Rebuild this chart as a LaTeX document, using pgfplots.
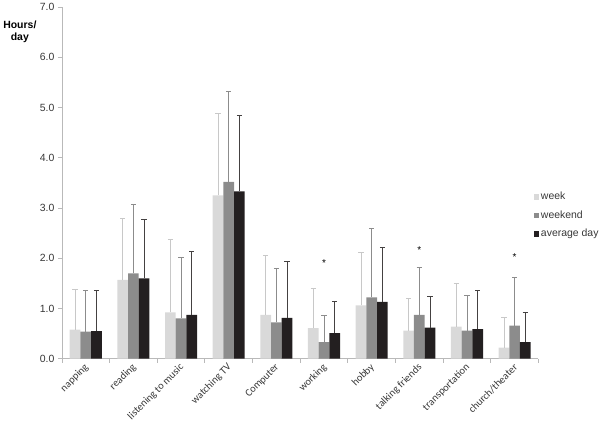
\documentclass[border=0pt]{standalone}
\usepackage{pgfplots}
\pgfplotsset{compat=1.18}
\usepackage{pgfplotstable}
\usepackage{fontspec}
\setmainfont{Liberation Sans}
\newfontfamily\catfont{Carlito}
\definecolor{wk}{RGB}{217,217,217}
\definecolor{we}{RGB}{140,140,140}
\definecolor{av}{RGB}{35,31,32}
\definecolor{axgray}{RGB}{185,185,185}
\definecolor{txt}{RGB}{55,55,55}

% value and upward SD for week (w), weekend (e), average day (a)
\pgfplotstableread{
x w  wsd  e    esd  a    asd
0 0.58 0.79 0.54 0.81 0.55 0.80
1 1.57 1.22 1.70 1.38 1.60 1.18
2 0.92 1.45 0.80 1.22 0.87 1.26
3 3.25 1.63 3.52 1.80 3.33 1.51
4 0.87 1.18 0.72 1.07 0.81 1.12
5 0.61 0.78 0.33 0.53 0.51 0.63
6 1.06 1.05 1.22 1.37 1.13 1.09
7 0.56 0.63 0.87 0.95 0.62 0.62
8 0.64 0.86 0.56 0.69 0.59 0.76
9 0.22 0.61 0.66 0.96 0.33 0.59
}\hours

\pgfplotsset{
  sdbar/.style={forget plot, sharp plot, draw=none, mark=none,
      error bars/y dir=plus, error bars/y explicit,
      error bars/error bar style={draw=#1, line width=0.8bp},
      error bars/error mark options={rotate=90, draw=#1, mark size=2.6bp,
                                     line width=0.8bp}},
}

\begin{document}
\begin{tikzpicture}
\begin{axis}[
    scale only axis,
    width=477bp, height=352bp,
    xmin=-0.5, xmax=9.5,
    ymin=0, ymax=7,
    axis lines*=left,
    axis line style={draw=axgray, line width=0.8bp},
    xtick={0,...,9},
    xticklabels={napping, reading, listening to music, watching TV, Computer,
                 working, hobby, talking friends, transportation, church/theater},
    major x tick style={draw=none},
    minor xtick={-0.5,0.5,...,9.5},
    minor x tick style={draw=axgray, line width=0.8bp},
    minor tick length=4bp,
    ytick={0,1,...,7},
    major tick length=4bp,
    y tick style={draw=axgray, line width=0.8bp},
    tick align=outside,
    yticklabel style={/pgf/number format/fixed, /pgf/number format/fixed zerofill,
                      /pgf/number format/precision=1,
                      /pgf/number format/assume math mode=true,
                      font=\fontsize{10.5}{12}\selectfont, text=txt},
    xticklabel style={font=\catfont\fontsize{10.5}{12}\selectfont, text=txt,
                      rotate=45, anchor=east, xshift=2bp, yshift=-3bp},
    ylabel={Hours/\\day},
    ylabel style={rotate=-90, at={(rel axis cs:0,0.929)}, anchor=east,
                  align=center, font=\bfseries\fontsize{10.5}{12}\selectfont,
                  xshift=-22bp},
    legend style={draw=none, fill=none, at={(rel axis cs:0.99,0.478)},
                  anchor=north west, font=\fontsize{10.5}{12}\selectfont,
                  text=txt, row sep=6.5bp, inner sep=0pt,
                  nodes={inner sep=1.5bp}},
    legend image code/.code={\fill[#1] (0bp,-2.8bp) rectangle (5.6bp,2.8bp);},
    legend cell align=left,
    clip=false,
]

\addplot[ybar, bar width=0.2243, bar shift=-0.2243, fill=wk, draw=none]
    table[x=x, y=w] {\hours};
\addlegendentry{week}
\addplot[ybar, bar width=0.2243, bar shift=0, fill=we, draw=none]
    table[x=x, y=e] {\hours};
\addlegendentry{weekend}
\addplot[ybar, bar width=0.2243, bar shift=0.2243, fill=av, draw=none]
    table[x=x, y=a] {\hours};
\addlegendentry{average day}

% upward SD whiskers, one per bar
\addplot[sdbar=wk!92!black] table[x expr=\thisrow{x}-0.2243, y=w, y error=wsd] {\hours};
\addplot[sdbar=we] table[x=x, y=e, y error=esd] {\hours};
\addplot[sdbar=av!85] table[x expr=\thisrow{x}+0.2243, y=a, y error=asd] {\hours};

% significance markers
\addplot[forget plot, sharp plot, draw=none, mark=none,
         nodes near coords={*},
         every node near coord/.append style={anchor=center, inner sep=0pt,
             font=\fontsize{10}{10}\selectfont}]
    coordinates {(5,1.91) (7,2.17) (9,2.03)};

\end{axis}
\end{tikzpicture}
\end{document}
